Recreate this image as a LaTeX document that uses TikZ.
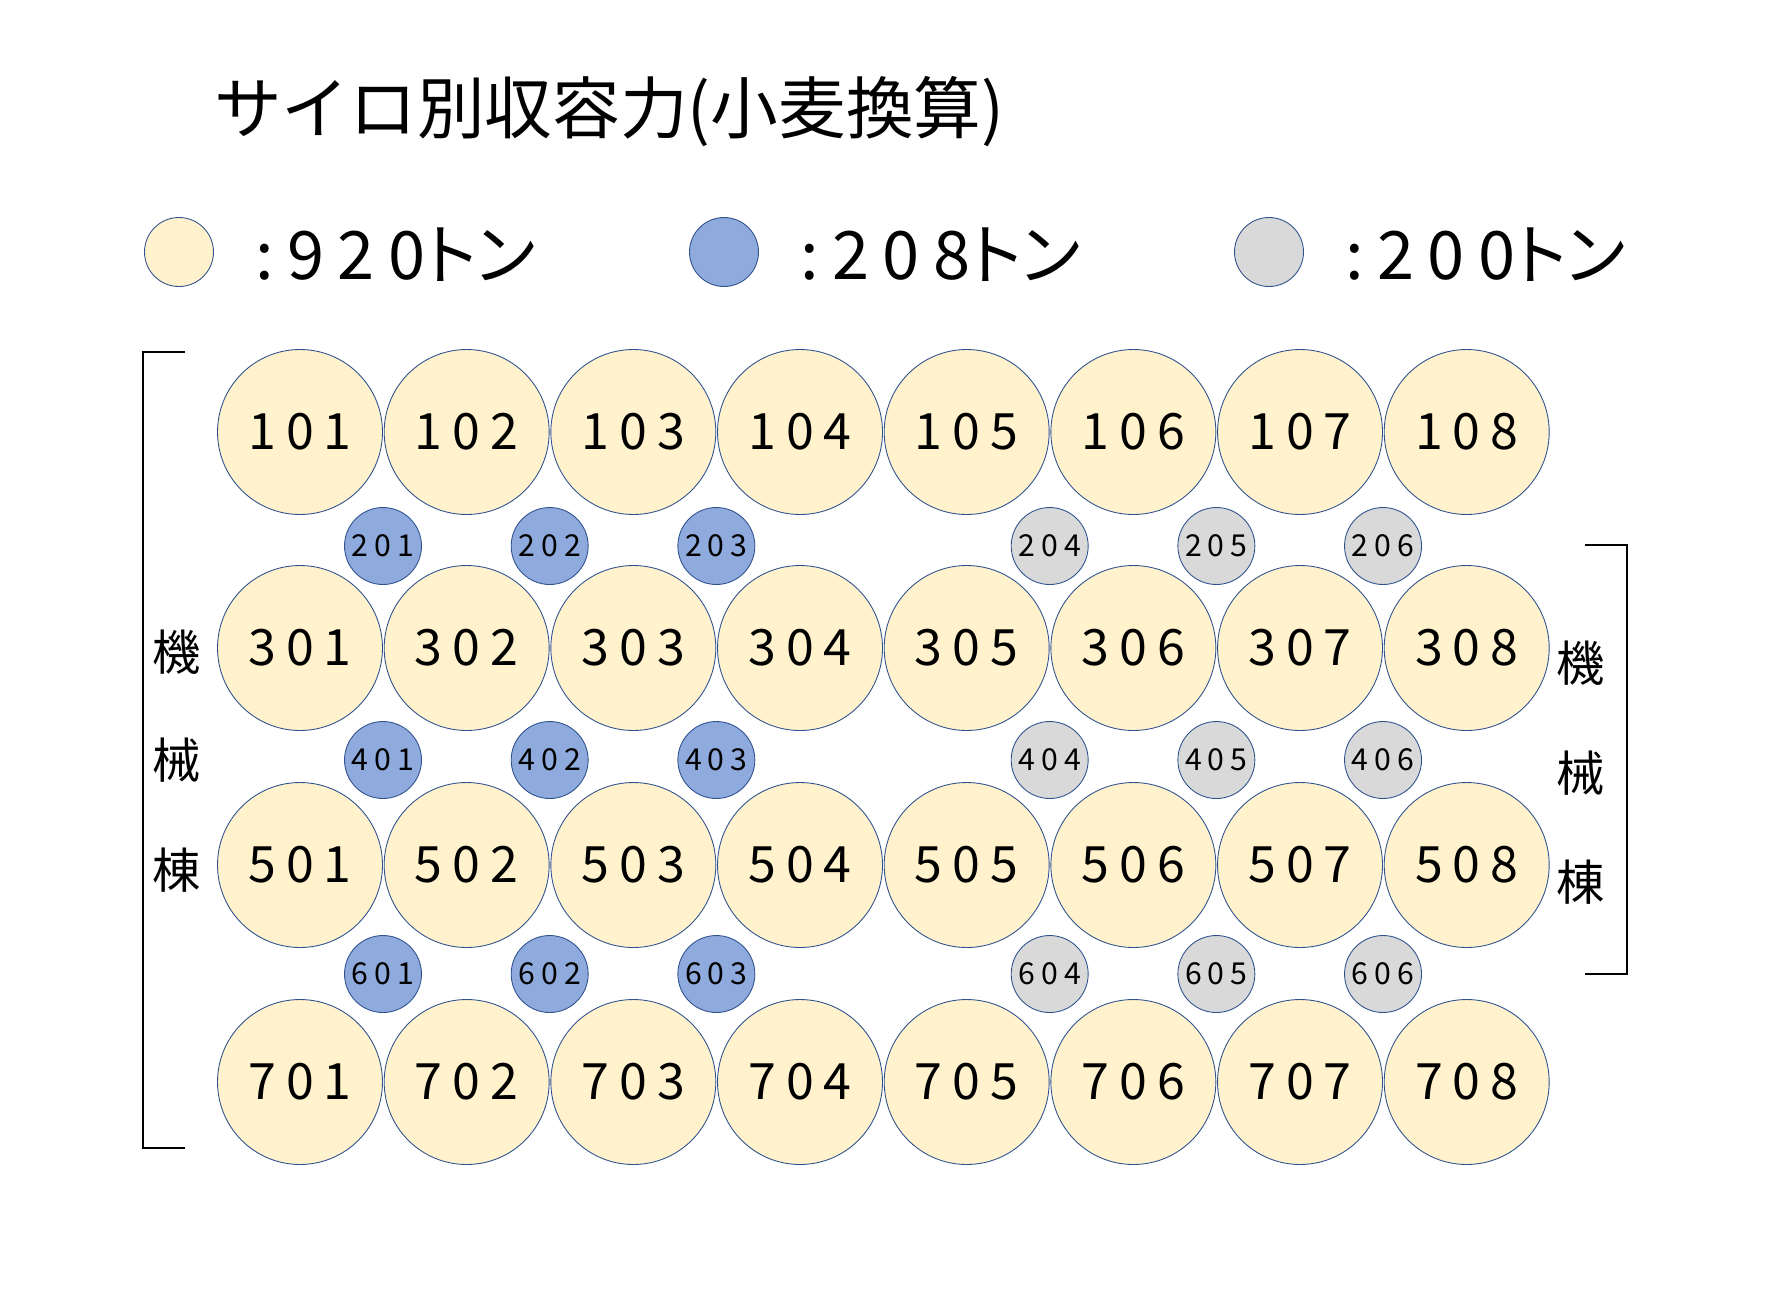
\documentclass[tikz,border=0pt]{standalone}
\usepackage{fontspec}
\setmainfont{Noto Sans CJK JP}
\newfontfamily\numfont[LetterSpace=20]{Noto Sans CJK JP}
\newfontfamily\kanafont[RawFeature=+palt]{Noto Sans CJK JP}
\definecolor{wheat}{HTML}{FFF2CC}
\definecolor{steel}{HTML}{8FAADC}
\definecolor{ash}{HTML}{D9D9D9}
\definecolor{rim}{HTML}{2F528F}
\newcommand{\tons}[1]{{\numfont :#1}{\kanafont トン}}
\begin{document}
\begin{tikzpicture}[
	x=0.02cm,
	y=-0.02cm,
	line join=miter,
	silo/.style={circle, draw=rim, line width=0.5pt, fill=wheat, minimum size=3.3cm, inner sep=0pt, font=\numfont\fontsize{28.5}{30}\selectfont},
	bin/.style={circle, draw=rim, line width=0.5pt, minimum size=1.54cm, inner sep=0pt, font=\numfont\fontsize{17.2}{18}\selectfont},
	key/.style={circle, draw=rim, line width=0.5pt, minimum size=1.38cm, inner sep=0pt},
	keytext/.style={anchor=west, inner sep=0pt, font=\fontsize{38}{40}\selectfont},
	hall/.style={inner sep=0pt, font=\fontsize{27.5}{30}\selectfont},
	]
\useasboundingbox (0,0) rectangle (1771,1292);
\node[anchor=west, inner sep=0pt, font=\fontsize{38.5}{40}\selectfont] (title) at (214,112) {サイロ別収容力(小麦換算)};
% legend
\node[key, fill=wheat] (k1) at (179,252) {};
\node[key, fill=steel] (k2) at (724,252) {};
\node[key, fill=ash] (k3) at (1269,252) {};
\node[keytext] (t1) at (255,255) {\tons{920}};
\node[keytext] (t2) at (800,255) {\tons{208}};
\node[keytext] (t3) at (1345,255) {\tons{200}};
% large silos
\foreach \r/\y in {1/432, 3/648, 5/865, 7/1082}
	\foreach \i in {1,...,8}
		\node[silo] (s\r0\i) at ({300+166.67*(\i-1)},\y) {\r0\i};
% small silos
\foreach \r/\y in {2/546, 4/760, 6/974}
	{
	\foreach \i in {1,2,3}
		\node[bin, fill=steel] (s\r0\i) at ({383+166.67*(\i-1)},\y) {\r0\i};
	\foreach \i in {4,5,6}
		\node[bin, fill=ash] (s\r0\i) at ({383+166.67*\i},\y) {\r0\i};
	}
% machine buildings
\foreach \c/\y [count=\n] in {機/652, 械/760, 棟/870}
	\node[hall] (ml\n) at (177,\y) {\c};
\foreach \c/\y [count=\n] in {機/663, 械/773, 棟/882}
	\node[hall] (mr\n) at (1581,\y) {\c};
\draw[line width=1.2pt] (185,352) -- (143,352) -- (143,1148) -- (185,1148);
\draw[line width=1.2pt] (1585,545) -- (1627,545) -- (1627,974) -- (1585,974);
\end{tikzpicture}
\end{document}
